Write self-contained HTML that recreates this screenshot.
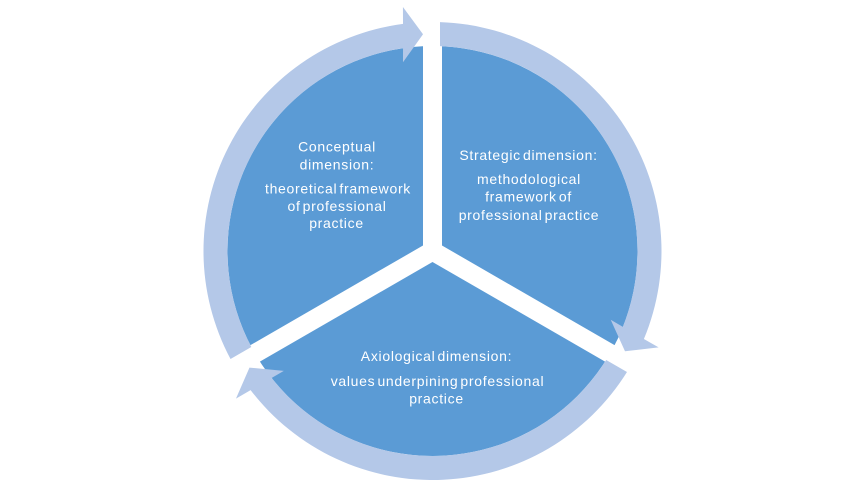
<!DOCTYPE html>
<html>
<head>
<meta charset="utf-8">
<style>
  html, body { margin: 0; padding: 0; background: #ffffff; width: 864px; height: 504px; overflow: hidden; }
  svg { display: block; }
  .t { font-family: "Liberation Sans", Arial, sans-serif; font-size: 14px; fill: #ffffff; letter-spacing: 0.7px; word-spacing: -2.5px; }
</style>
</head>
<body>
<svg width="864" height="504" viewBox="0 0 864 504" xmlns="http://www.w3.org/2000/svg" overflow="hidden">
  <rect x="0" y="0" width="864" height="504" fill="#ffffff"/>
  <!-- pie -->
  <circle cx="432.5" cy="251" r="205" fill="#5B9BD5"/>
  <!-- white gaps -->
  <g stroke="#ffffff" stroke-width="19" stroke-linecap="butt">
    <line x1="432.5" y1="251" x2="432.5" y2="0"/>
    <line x1="432.5" y1="251" x2="692.3" y2="401"/>
    <line x1="432.5" y1="251" x2="172.7" y2="401"/>
  </g>
  <circle cx="432.5" cy="251" r="4" fill="#ffffff"/>
  <!-- arrows ring -->
  <g fill="#B4C8E8">
    <path d="M 440 22.1 A 229 229 0 0 1 643.9 339.0 L 658.6 347.4 L 625.0 351.2 L 610.7 319.8 L 622.9 326.9 A 205 205 0 0 0 440 46.1 Z"/>
    <path d="M 626.98 371.95 A 229 229 0 0 1 250.59 390.07 L 235.97 398.6 L 249.48 367.61 L 283.82 370.92 L 271.57 377.94 A 205 205 0 0 0 606.19 359.95 Z"/>
    <path d="M 230.52 358.96 A 229 229 0 0 1 403.01 23.93 L 402.93 7.0 L 423.02 34.19 L 402.98 62.28 L 403.03 48.16 A 205 205 0 0 0 251.31 346.96 Z"/>
  </g>
  <!-- left text -->
  <g class="t" text-anchor="middle">
    <text x="337" y="151.5">Conceptual</text>
    <text x="337" y="169.5">dimension:</text>
    <text x="338" y="193.5">theoretical framework</text>
    <text x="337" y="211">of professional</text>
    <text x="336.5" y="228">practice</text>
  </g>
  <!-- right text -->
  <g class="t" text-anchor="middle">
    <text x="528.5" y="160">Strategic dimension:</text>
    <text x="529" y="184">methodological</text>
    <text x="528.5" y="201.5">framework of</text>
    <text x="529" y="220">professional practice</text>
  </g>
  <!-- bottom text -->
  <g class="t" text-anchor="middle">
    <text x="436.5" y="361">Axiological dimension:</text>
    <text x="437.5" y="386">values underpining professional</text>
    <text x="436.5" y="403.5">practice</text>
  </g>
</svg>
</body>
</html>
